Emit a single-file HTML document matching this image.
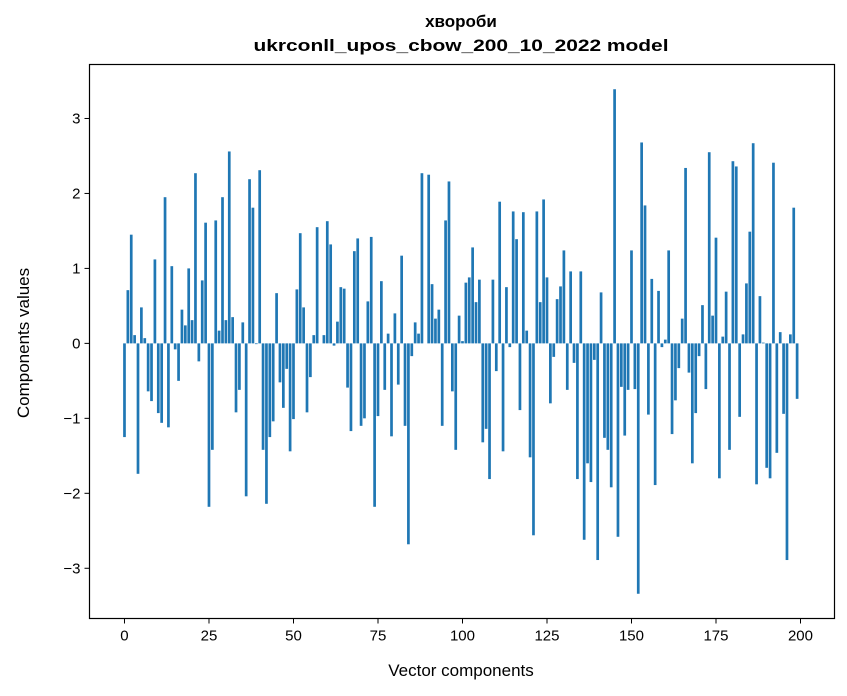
<!DOCTYPE html>
<html><head><meta charset="utf-8"><style>
body{margin:0;background:#fff;}
svg{display:block;font-family:"Liberation Sans","DejaVu Sans",sans-serif;}
</style></head><body>
<svg id="chart" width="847" height="696" viewBox="0 0 847 696">
<rect width="847" height="696" fill="#fff"/>
<text x="461" y="27" text-anchor="middle" font-size="17" font-weight="bold">хвороби</text>
<text x="461" y="51" text-anchor="middle" font-size="17" font-weight="bold" textLength="415" lengthAdjust="spacingAndGlyphs">ukrconll_upos_cbow_200_10_2022 model</text>
<g id="bars"></g>
<g id="xticks"></g>
<g id="yticks"></g>
<rect x="89.5" y="64.5" width="745" height="554" fill="none" stroke="#000" stroke-width="1.2"/>
<text x="461" y="676" text-anchor="middle" font-size="17">Vector components</text>
<text transform="translate(29,343) rotate(-90)" text-anchor="middle" font-size="17">Components values</text>
</svg>
<script>
const values = [
-1.25,0.71,1.45,0.11,-1.74,0.48,0.07,-0.64,-0.77,1.12,
-0.93,-1.06,1.95,-1.12,1.03,-0.08,-0.50,0.45,0.24,1.0,
0.31,2.27,-0.24,0.84,1.61,-2.18,-1.42,1.64,0.17,1.95,
0.31,2.56,0.35,-0.92,-0.62,0.28,-2.04,2.19,1.81,-0.01,
2.31,-1.42,-2.14,-1.25,-1.04,0.67,-0.52,-0.86,-0.34,-1.44,
-1.01,0.72,1.47,0.48,-0.92,-0.45,0.11,1.55,0.0,0.11,
1.63,1.32,-0.03,0.29,0.75,0.73,-0.59,-1.17,1.23,1.40,
-1.10,-1.00,0.56,1.42,-2.18,-0.97,0.83,-0.62,0.13,-1.24,
0.40,-0.55,1.17,-1.10,-2.68,-0.17,0.28,0.13,2.27,0.0,
2.25,0.79,0.33,0.45,-1.10,1.64,2.16,-0.64,-1.42,0.37,
0.03,0.81,0.88,1.28,0.55,0.85,-1.32,-1.14,-1.81,0.85,
-0.37,1.89,-1.44,0.75,-0.05,1.76,1.39,-0.89,1.75,0.17,
-1.52,-2.56,1.76,0.55,1.92,0.88,-0.80,-0.18,0.59,0.76,
1.24,-0.62,0.96,-0.26,-1.81,0.96,-2.62,-1.60,-1.85,-0.22,
-2.89,0.68,-1.26,-1.42,-1.92,3.39,-2.58,-0.58,-1.23,-0.62,
1.24,-0.61,-3.34,2.68,1.84,-0.95,0.86,-1.89,0.70,-0.05,
0.05,1.24,-1.21,-0.76,-0.33,0.33,2.34,-0.39,-1.60,-0.93,
-0.17,0.51,-0.61,2.55,0.37,1.41,-1.80,0.09,0.69,-1.42,
2.43,2.36,-0.98,0.12,0.80,1.49,2.67,-1.88,0.63,0.01,
-1.66,-1.80,2.41,-1.46,0.15,-0.94,-2.89,0.12,1.81,-0.74
];
const xTicks = [0,25,50,75,100,125,150,175,200];
const yTicks = [-3,-2,-1,0,1,2,3];
const yTickLabels = ["\u22123","\u22122","\u22121","0","1","2","3"];

const NS = "http://www.w3.org/2000/svg";
const X0=89.5, X1=834.5, Y0=64.5, Y1=618.5;
const xMin=-10.35, xMax=210.06, yMin=-3.67, yMax=3.72;
const xs = v => X0 + (v - xMin) / (xMax - xMin) * (X1 - X0);
const ys = v => Y1 - (v - yMin) / (yMax - yMin) * (Y1 - Y0);
const barW = xs(0.8) - xs(0);

const gb = document.getElementById('bars');
values.forEach((v, i) => {
  const r = document.createElementNS(NS, 'rect');
  
  
  const y = Math.min(ys(v), ys(0));
  r.setAttribute('x', xs(i) - barW / 2);
  r.setAttribute('y', y);
  r.setAttribute('width', barW);
  r.setAttribute('height', Math.abs(ys(v) - ys(0)));
  r.setAttribute('fill', '#1f77b4');
  gb.appendChild(r);
});

const gx = document.getElementById('xticks');
xTicks.forEach(t => {
  const l = document.createElementNS(NS, 'line');
  
  
  l.setAttribute('x1', xs(t)); l.setAttribute('x2', xs(t));
  l.setAttribute('y1', Y1); l.setAttribute('y2', Y1 + 5);
  l.setAttribute('stroke', '#000');
  gx.appendChild(l);
  const tx = document.createElementNS(NS, 'text');
  
  
  tx.setAttribute('x', xs(t)); tx.setAttribute('y', Y1 + 22);
  tx.setAttribute('text-anchor', 'middle');
  tx.setAttribute('font-size', '15');
  tx.textContent = t;
  gx.appendChild(tx);
});

const gy = document.getElementById('yticks');
yTicks.forEach((t, k) => {
  const l = document.createElementNS(NS, 'line');
  
  
  l.setAttribute('x1', X0 - 5); l.setAttribute('x2', X0);
  l.setAttribute('y1', ys(t)); l.setAttribute('y2', ys(t));
  l.setAttribute('stroke', '#000');
  gy.appendChild(l);
  const tx = document.createElementNS(NS, 'text');
  
  
  tx.setAttribute('x', X0 - 9); tx.setAttribute('y', ys(t) + 5);
  tx.setAttribute('text-anchor', 'end');
  tx.setAttribute('font-size', '15');
  tx.textContent = yTickLabels[k];
  gy.appendChild(tx);
});
</script>
</body></html>
